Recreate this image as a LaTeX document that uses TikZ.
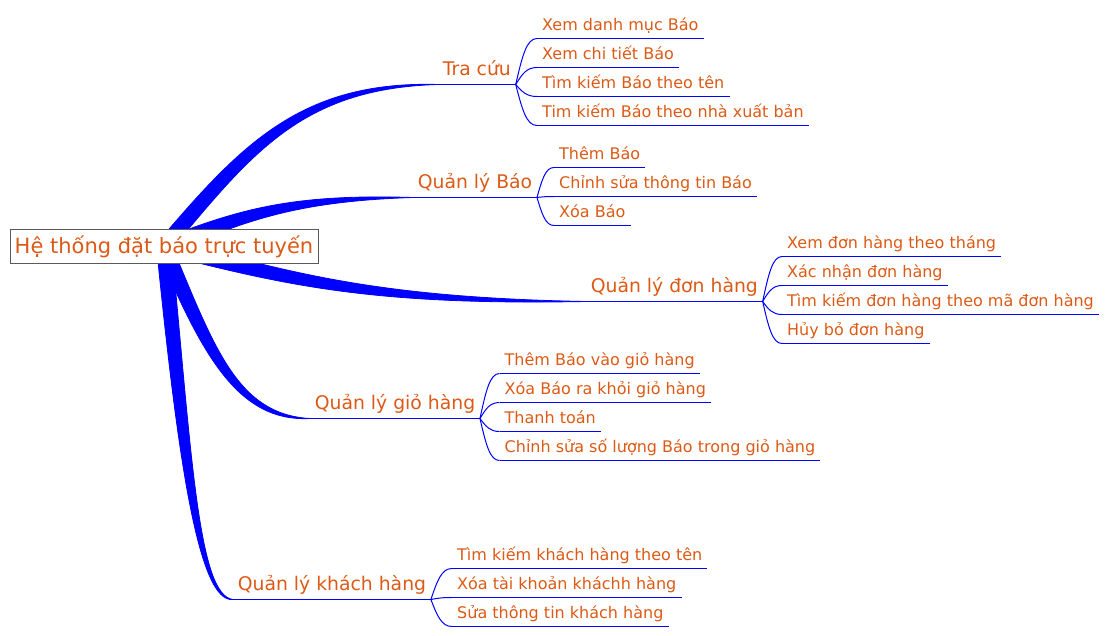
\documentclass[tikz,border=0pt]{standalone}
\usepackage{fontspec}
\setmainfont{DejaVu Sans}
\usetikzlibrary{calc,backgrounds}
\definecolor{txt}{RGB}{220,90,22}
\definecolor{edge}{RGB}{0,0,255}
\definecolor{boxline}{RGB}{90,90,90}
\tikzset{
 rootnode/.style={draw=boxline, line width=1pt, fill=white, text=txt,
   font=\fontsize{21pt}{25pt}\selectfont, minimum width=308pt, minimum height=34pt,
   inner sep=0pt, text height=20pt, text depth=5.5pt},
 mainnode/.style={anchor=south west, text=txt, font=\fontsize{18.8pt}{22pt}\selectfont,
   inner xsep=4.6pt, inner ysep=9pt, text depth=0pt, text height=14pt},
 leafnode/.style={anchor=south west, text=txt, font=\fontsize{16pt}{19pt}\selectfont,
   inner xsep=5pt, inner ysep=8pt, text depth=0pt, text height=12pt},
 thinedge/.style={draw=edge, line width=1pt},
 thickedge/.style={fill=edge, draw=edge, line width=0.8pt, line join=round},
}
\newcommand\thickbranch[2]{%
 \path let \p1=(#1), \p2=(#2) in
   coordinate (tbA) at ({\x1+0.3*(\x2-\x1)},{\y1+0.6*(\y2-\y1)})
   coordinate (tbB) at ({\x2-0.5*(\x2-\x1)},\y2);
 \path[thickedge] ($(#1)!7.5pt!90:(tbA)$) .. controls ($(tbA)!7pt!90:(tbB)$) and ($(tbB)!4pt!90:(#2)$) .. (#2)
   .. controls ($(tbB)!4pt!-90:(#2)$) and ($(tbA)!7pt!-90:(tbB)$) .. ($(#1)!7.5pt!-90:(tbA)$) -- cycle;
}
\newcommand\thinbranch[2]{%
 \draw[thinedge] let \p1=(#1), \p2=(#2) in (\p1) .. controls ({\x1+0.3*(\x2-\x1)},{\y1+0.6*(\y2-\y1)}) and ({\x2-0.5*(\x2-\x1)},\y2) .. (\p2);
}
\newcommand\uline[1]{\draw[thinedge] (#1.south west) -- (#1.south east);}
\begin{document}
\begin{tikzpicture}[x=1pt,y=-1pt]
\useasboundingbox (0,0) rectangle (1108,636);
\node[rootnode] (root) at (164,246.5) {Hệ thống đặt báo trực tuyến};

\node[mainnode] (tc) at (438,84.5) {Tra cứu};
\node[leafnode] (tc1) at (537,38.5) {Xem danh mục Báo};
\node[leafnode] (tc2) at (537,67.5) {Xem chi tiết Báo};
\node[leafnode] (tc3) at (537,96.5) {Tìm kiếm Báo theo tên};
\node[leafnode] (tc4) at (537,125.5) {Tim kiếm Báo theo nhà xuất bản};

\node[mainnode] (qb) at (413,197.5) {Quản lý Báo};
\node[leafnode] (qb1) at (554,167.5) {Thêm Báo};
\node[leafnode] (qb2) at (554,196.5) {Chỉnh sửa thông tin Báo};
\node[leafnode] (qb3) at (554,225.5) {Xóa Báo};

\node[mainnode] (qd) at (586,301.5) {Quản lý đơn hàng};
\node[leafnode] (qd1) at (782,256.5) {Xem đơn hàng theo tháng};
\node[leafnode] (qd2) at (782,285.5) {Xác nhận đơn hàng};
\node[leafnode] (qd3) at (782,314.5) {Tìm kiếm đơn hàng theo mã đơn hàng};
\node[leafnode] (qd4) at (782,343.5) {Hủy bỏ đơn hàng};

\node[mainnode] (qg) at (310,418.5) {Quản lý giỏ hàng};
\node[leafnode] (qg1) at (499.5,373.5) {Thêm Báo vào giỏ hàng};
\node[leafnode] (qg2) at (499.5,402.5) {Xóa Báo ra khỏi giỏ hàng};
\node[leafnode] (qg3) at (499.5,431.5) {Thanh toán};
\node[leafnode] (qg4) at (499.5,460.5) {Chỉnh sửa số lượng Báo trong giỏ hàng};

\node[mainnode] (qk) at (233,599.5) {Quản lý khách hàng};
\node[leafnode] (qk1) at (452,568.5) {Tìm kiếm khách hàng theo tên};
\node[leafnode] (qk2) at (452,597.5) {Xóa tài khoản kháchh hàng};
\node[leafnode] (qk3) at (452,626.5) {Sửa thông tin khách hàng};

\begin{pgfonlayer}{background}
\thickbranch{root.center}{tc.south west}
\thickbranch{root.center}{qb.south west}
\thickbranch{root.center}{qd.south west}
\thickbranch{root.center}{qg.south west}
\thickbranch{root.center}{qk.south west}
\foreach \k in {tc,qb,qd,qg,qk}{\uline{\k}}
\foreach \k in {tc1,tc2,tc3,tc4,qb1,qb2,qb3,qd1,qd2,qd3,qd4,qg1,qg2,qg3,qg4,qk1,qk2,qk3}{\uline{\k}}
\foreach \k in {tc1,tc2,tc3,tc4}{\thinbranch{tc.south east}{\k.south west}}
\foreach \k in {qb1,qb2,qb3}{\thinbranch{qb.south east}{\k.south west}}
\foreach \k in {qd1,qd2,qd3,qd4}{\thinbranch{qd.south east}{\k.south west}}
\foreach \k in {qg1,qg2,qg3,qg4}{\thinbranch{qg.south east}{\k.south west}}
\foreach \k in {qk1,qk2,qk3}{\thinbranch{qk.south east}{\k.south west}}
\end{pgfonlayer}
\end{tikzpicture}
\end{document}
